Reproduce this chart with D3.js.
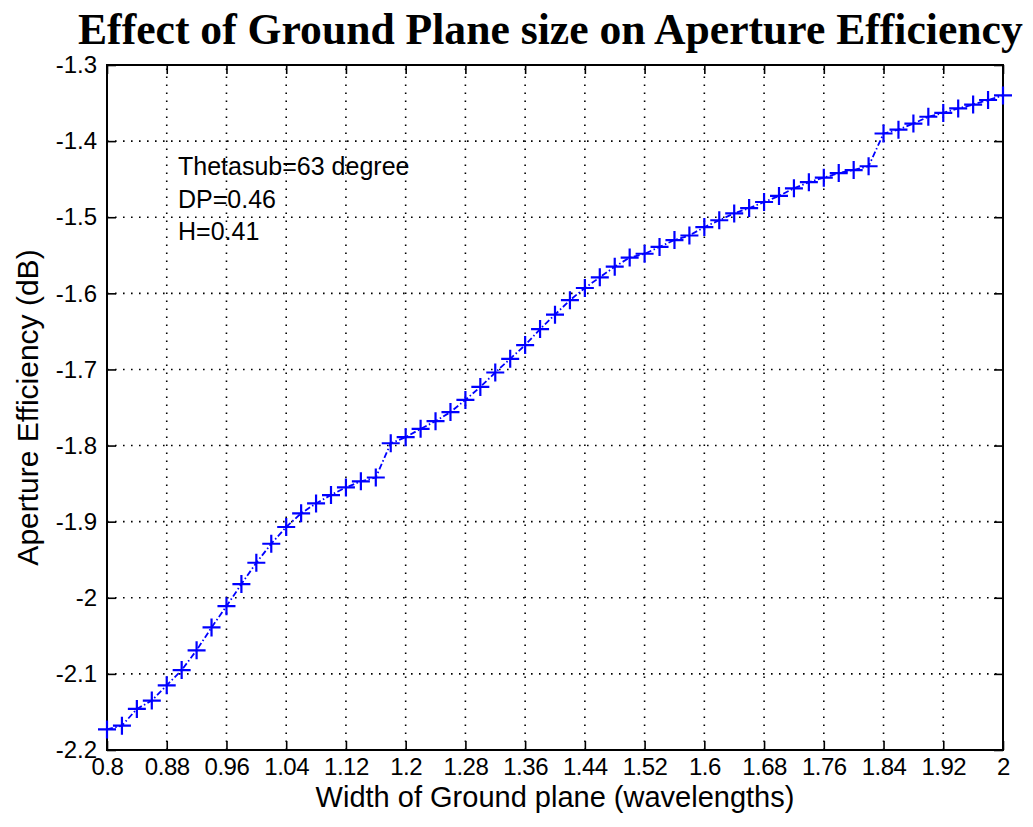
<!DOCTYPE html>
<html>
<head>
<meta charset="utf-8">
<script src="https://cdn.jsdelivr.net/npm/d3@7"></script>
<style>
  html, body { margin: 0; padding: 0; background: #fff; }
  svg { display: block; }
</style>
</head>
<body>
<svg id="chart" width="1033" height="827"></svg>
<script>
// Ground plane width (wavelengths) and the resulting aperture efficiency (dB)
const widths = [
  0.80, 0.82, 0.84, 0.86, 0.88, 0.90, 0.92, 0.94, 0.96, 0.98,
  1.00, 1.02, 1.04, 1.06, 1.08, 1.10, 1.12, 1.14, 1.16, 1.18,
  1.20, 1.22, 1.24, 1.26, 1.28, 1.30, 1.32, 1.34, 1.36, 1.38,
  1.40, 1.42, 1.44, 1.46, 1.48, 1.50, 1.52, 1.54, 1.56, 1.58,
  1.60, 1.62, 1.64, 1.66, 1.68, 1.70, 1.72, 1.74, 1.76, 1.78,
  1.80, 1.82, 1.84, 1.86, 1.88, 1.90, 1.92, 1.94, 1.96, 1.98,
  2.00
];
const efficiency = [
  -2.173, -2.168, -2.146, -2.135, -2.115, -2.095, -2.069, -2.039, -2.011, -1.982,
  -1.954, -1.929, -1.907, -1.889, -1.876, -1.865, -1.855, -1.847, -1.842, -1.797,
  -1.789, -1.778, -1.768, -1.756, -1.740, -1.723, -1.704, -1.686, -1.668, -1.647,
  -1.628, -1.609, -1.593, -1.579, -1.565, -1.553, -1.548, -1.539, -1.530, -1.524,
  -1.513, -1.504, -1.495, -1.488, -1.480, -1.472, -1.462, -1.454, -1.448, -1.442,
  -1.438, -1.433, -1.390, -1.385, -1.377, -1.368, -1.363, -1.357, -1.352, -1.346,
  -1.340
];
const xTicks = [0.8, 0.88, 0.96, 1.04, 1.12, 1.2, 1.28, 1.36, 1.44, 1.52, 1.6, 1.68, 1.76, 1.84, 1.92, 2];
const yTicks = [-2.2, -2.1, -2, -1.9, -1.8, -1.7, -1.6, -1.5, -1.4, -1.3];
const notes = ["Thetasub=63 degree", "DP=0.46", "H=0.41"];

const titleText = "Effect of Ground Plane size on Aperture Efficiency";
const xLabel = "Width of Ground plane (wavelengths)";
const yLabel = "Aperture Efficiency (dB)";

const svg = d3.select("#chart");
const plotLeft = 107, plotRight = 1003, plotTop = 65, plotBottom = 750;

const x = d3.scaleLinear().domain([0.8, 2]).range([plotLeft, plotRight]);
const y = d3.scaleLinear().domain([-2.2, -1.3]).range([plotBottom, plotTop]);

const sans = "'Liberation Sans', Arial, Helvetica, sans-serif";

// dotted grid
const grid = svg.append("g").attr("stroke", "#000").attr("stroke-width", 1.6)
  .attr("stroke-dasharray", "1.6,6.4").attr("fill", "none");
grid.selectAll("line.v").data(xTicks.slice(1, -1)).join("line").attr("class", "v")
  .attr("x1", d => x(d)).attr("x2", d => x(d)).attr("y1", plotBottom).attr("y2", plotTop);
grid.selectAll("line.h").data(yTicks.slice(1, -1)).join("line").attr("class", "h")
  .attr("x1", plotLeft).attr("x2", plotRight).attr("y1", d => y(d)).attr("y2", d => y(d));

// axes with inward ticks on all four sides
const fmt = d => String(d);
const styleAxis = g => {
  g.select(".domain").remove();
  g.selectAll(".tick line").attr("stroke", "#000").attr("stroke-width", 1.6);
  g.selectAll(".tick text").attr("fill", "#000").style("font-family", sans).style("font-size", "24px");
};
svg.append("g").attr("transform", `translate(0,${plotBottom})`)
  .call(d3.axisBottom(x).tickValues(xTicks).tickFormat(fmt).tickSize(-9).tickPadding(8))
  .call(styleAxis)
  .call(g => g.selectAll(".tick text").style("letter-spacing", "-0.5px"));
svg.append("g").attr("transform", `translate(${plotLeft},0)`)
  .call(d3.axisLeft(y).tickValues(yTicks).tickFormat(fmt).tickSize(-9).tickPadding(10))
  .call(styleAxis);
svg.append("g").attr("transform", `translate(0,${plotTop})`)
  .call(d3.axisTop(x).tickValues(xTicks).tickFormat("").tickSize(-9))
  .call(styleAxis);
svg.append("g").attr("transform", `translate(${plotRight},0)`)
  .call(d3.axisRight(y).tickValues(yTicks).tickFormat("").tickSize(-9))
  .call(styleAxis);

// frame
svg.append("rect").attr("x", plotLeft).attr("y", plotTop)
  .attr("width", plotRight - plotLeft).attr("height", plotBottom - plotTop)
  .attr("fill", "none").attr("stroke", "#000").attr("stroke-width", 2);

// data line and markers
const pts = widths.map((w, i) => [w, efficiency[i]]);
svg.append("path").datum(pts)
  .attr("fill", "none").attr("stroke", "#0000ff").attr("stroke-width", 1.8)
  .attr("stroke-dasharray", "6,2.5,1.5,2.5")
  .attr("d", d3.line().x(d => x(d[0])).y(d => y(d[1])));
svg.append("g").selectAll("path").data(pts).join("path")
  .attr("transform", d => `translate(${x(d[0])},${y(d[1])})`)
  .attr("d", "M-9,0H9M0,-9V9")
  .attr("stroke", "#0000ff").attr("stroke-width", 2.2).attr("fill", "none");

// annotation
svg.append("g").selectAll("text").data(notes).join("text")
  .attr("x", 178).attr("y", (d, i) => 175 + i * 32.5)
  .style("font-family", sans).style("font-size", "25px").attr("fill", "#000")
  .text(d => d);

// title: bold serif, horizontally condensed to fit across the figure
const title = svg.append("text").attr("x", 0).attr("y", 0)
  .style("font-family", "'Liberation Serif', 'Times New Roman', serif")
  .style("font-weight", "bold").style("font-size", "45px").attr("fill", "#000")
  .text(titleText);
const natural = title.node().getComputedTextLength();
title.attr("transform", `translate(78,44) scale(${945 / natural},1)`);

svg.append("text").attr("x", (plotLeft + plotRight) / 2).attr("y", 807)
  .attr("text-anchor", "middle")
  .style("font-family", sans).style("font-size", "29px").attr("fill", "#000")
  .text(xLabel);
svg.append("text").attr("transform", `translate(38,${(plotTop + plotBottom) / 2}) rotate(-90)`)
  .attr("text-anchor", "middle")
  .style("font-family", sans).style("font-size", "30px").attr("fill", "#000")
  .text(yLabel);
</script>
</body>
</html>
